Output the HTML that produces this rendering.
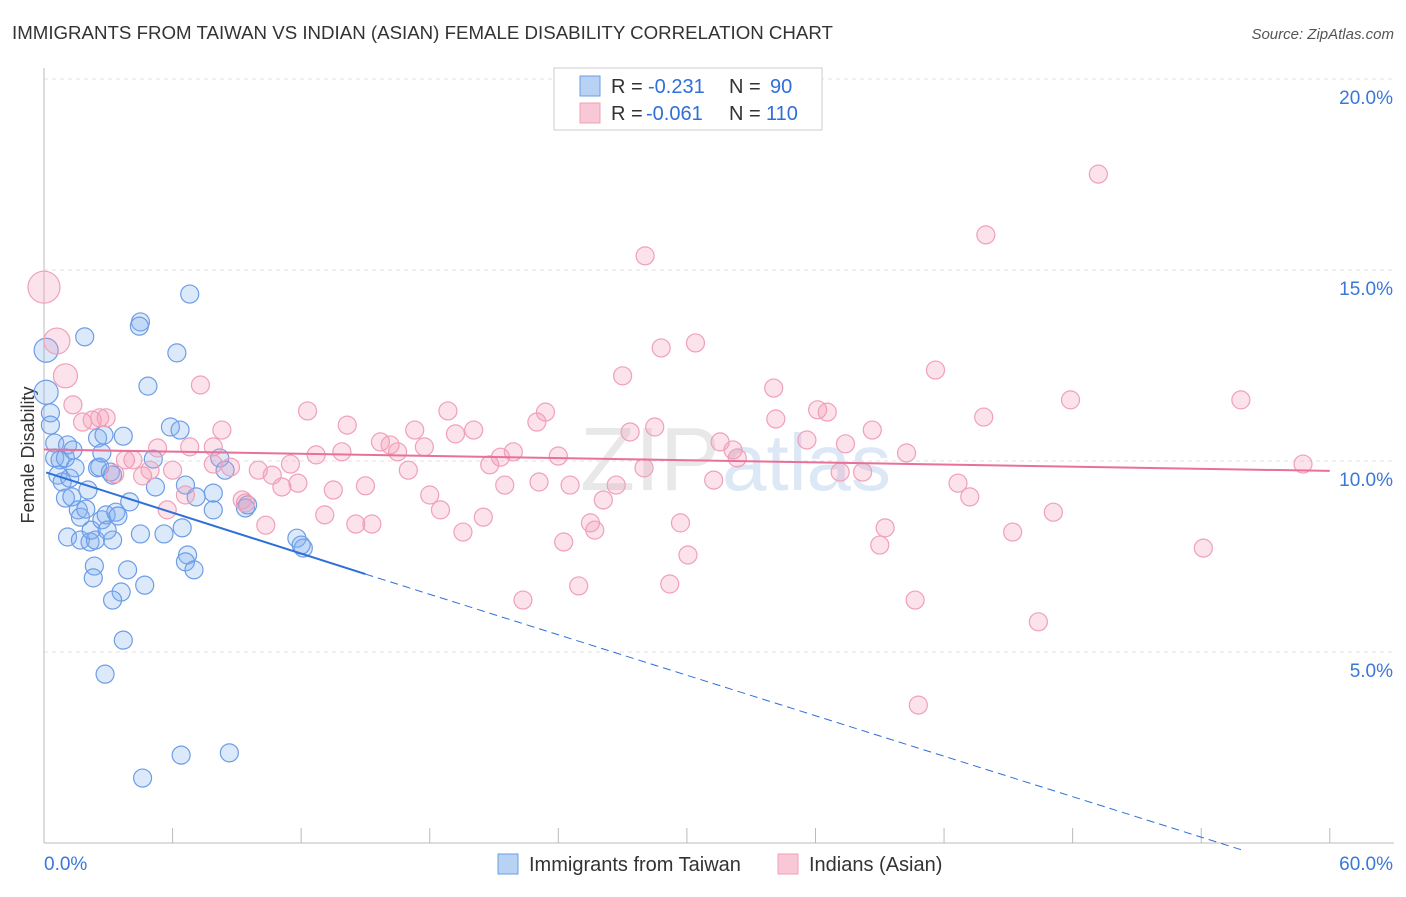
<!DOCTYPE html>
<html><head><meta charset="utf-8"><style>
body{margin:0;background:#fff;font-family:"Liberation Sans",sans-serif;}
svg text{font-family:"Liberation Sans",sans-serif;white-space:pre;}
</style></head><body>
<svg id="chart" width="1406" height="892">
<text x="12" y="39" font-size="18.7" fill="#333">IMMIGRANTS FROM TAIWAN VS INDIAN (ASIAN) FEMALE DISABILITY CORRELATION CHART</text>
<text x="1394" y="39" font-size="15" fill="#555" font-style="italic" text-anchor="end">Source: ZipAtlas.com</text>
<text x="720" y="490" font-size="90" fill="#e8e8e8" font-family="Liberation Serif" text-anchor="end">ZIP</text>
<text x="722" y="490" font-size="80" fill="#dce8f6">atlas</text>
<g id="grid"></g>
<g id="axes"></g>
<text x="34" y="455" font-size="18" fill="#333" text-anchor="middle" transform="rotate(-90 34 455)">Female Disability</text>
<g id="marks"></g>
<g>
<rect x="554" y="68" width="268" height="62" fill="#fff" stroke="#ccc"/>
<rect x="580" y="76" width="20" height="20" fill="#b8d2f4" stroke="#6a9de0"/>
<rect x="580" y="103" width="20" height="20" fill="#f9c8d6" stroke="#f0a0b8"/>
<text x="611" y="93" font-size="20" fill="#333">R = </text>
<text x="648" y="93" font-size="20" fill="#2f6fd8">-0.231</text>
<text x="729" y="93" font-size="20" fill="#333">N = </text>
<text x="770" y="93" font-size="20" fill="#2f6fd8">90</text>
<text x="611" y="120" font-size="20" fill="#333">R = </text>
<text x="646" y="120" font-size="20" fill="#2f6fd8">-0.061</text>
<text x="729" y="120" font-size="20" fill="#333">N = </text>
<text x="766" y="120" font-size="20" fill="#2f6fd8">110</text>
</g>
<g>
<rect x="498" y="854" width="20" height="20" fill="#b8d2f4" stroke="#6a9de0"/>
<text x="529" y="871" font-size="20" fill="#333">Immigrants from Taiwan</text>
<rect x="778" y="854" width="20" height="20" fill="#f9c8d6" stroke="#f0a0b8"/>
<text x="809" y="871" font-size="20" fill="#333">Indians (Asian)</text>
</g>
</svg>
<script>
const yTicks=[5,10,15,20];
const yTickLabels=["5.0%","10.0%","15.0%","20.0%"];
const xTicks=[0,6,12,18,24,30,36,42,48,54,60];
const blueX=[0.1,0.1,0.3,0.3,0.5,0.5,0.75,1.0,1.1,1.35,0.65,0.85,1.2,1.45,1.9,1.0,1.3,1.6,1.7,2.05,1.95,1.1,1.7,2.15,2.4,2.2,2.5,2.6,2.5,2.8,2.7,3.1,3.2,2.7,2.9,3.35,3.45,3.2,2.95,3.7,4.0,4.5,4.85,4.5,4.45,5.2,5.6,5.9,6.35,6.45,6.6,6.7,6.6,7.0,6.2,6.8,5.1,7.1,7.9,7.9,8.2,8.45,9.4,9.5,11.8,12.1,12.0,2.35,2.3,3.9,4.7,3.6,3.2,3.7,2.85,6.4,8.65,4.6];
const blueY=[12.9,11.8,11.26,10.94,10.47,10.08,10.03,10.08,10.42,10.29,9.63,9.45,9.55,9.82,13.25,9.03,9.06,8.72,8.53,9.24,8.74,8.01,7.93,7.88,7.93,8.19,9.82,9.84,10.6,10.68,10.21,9.71,9.63,8.46,8.59,8.66,8.56,7.93,8.19,10.65,8.93,8.09,11.96,13.64,13.53,9.32,8.09,10.89,10.81,8.25,9.37,7.54,7.36,7.15,12.83,14.37,10.05,9.06,9.16,8.72,10.08,9.76,8.77,8.85,7.98,7.72,7.8,7.25,6.94,7.15,6.75,6.57,6.36,5.31,4.42,2.3,2.36,1.7];
const pinkX=[0,0.6,1.0,1.35,1.8,2.25,2.6,2.9,3.3,3.8,4.15,4.6,4.95,5.3,5.75,6.0,6.6,6.8,7.3,7.9,8.3,7.9,8.7,9.4,9.25,10.0,10.35,10.65,11.1,11.5,11.85,12.3,12.7,13.1,13.5,13.9,14.15,14.55,15.0,15.3,15.7,16.15,16.5,17.0,17.3,17.75,18.0,18.5,18.85,19.2,19.55,20.05,20.5,20.8,21.3,21.5,21.9,22.35,23.0,23.1,23.4,24.0,24.25,24.55,24.95,25.5,25.7,26.1,26.7,27.0,27.35,28.0,28.05,28.5,28.8,29.2,29.7,30.05,30.4,31.25,31.55,32.15,32.35,34.05,34.15,35.6,36.1,36.55,37.15,37.4,38.2,38.65,39.0,39.25,40.25,40.65,40.8,41.6,42.65,43.2,43.85,43.95,45.2,46.4,47.1,47.9,49.2,54.1,55.85,58.75];
const pinkY=[14.55,13.14,12.23,11.47,11.02,11.07,11.13,11.13,9.66,10.03,10.03,9.61,9.76,10.34,8.72,9.76,9.11,10.37,11.99,9.92,10.81,10.37,9.84,8.9,8.98,9.76,8.32,9.63,9.32,9.92,9.42,11.31,10.16,8.59,9.24,10.24,10.94,8.35,9.35,8.35,10.5,10.42,10.24,9.76,10.81,10.37,9.11,8.72,11.31,10.71,8.14,10.81,8.53,9.9,10.1,9.37,10.24,6.36,11.02,9.45,11.28,10.13,7.88,9.37,6.73,8.38,8.19,8.98,9.37,12.23,10.76,9.82,15.37,10.89,12.96,6.78,8.38,7.54,13.09,9.5,10.5,10.29,10.08,11.91,11.1,10.55,11.34,11.28,9.71,10.45,9.71,10.81,7.8,8.25,10.21,6.36,3.61,12.38,9.42,9.06,11.15,15.92,8.14,5.79,8.66,11.6,17.51,7.72,11.6,9.92];
const blueTrend=[[0.1,9.7],[15,7.04],[56,-0.2]];
const pinkTrend=[[0,10.3],[60,9.74]];
const NS="http://www.w3.org/2000/svg";
const X=v=>44+v*21.43, Y=v=>843-v*38.2;
function el(t,a,p){const e=document.createElementNS(NS,t);for(const k in a)e.setAttribute(k,a[k]);document.getElementById(p).appendChild(e);return e;}
yTicks.forEach((t,i)=>{
 const g=el('line',{x1:44,x2:1394,y1:Y(t),y2:Y(t),stroke:'#e2e2e2','stroke-dasharray':'4 4'},'grid');
 
 
 const l=el('text',{x:1393,y:Y(t)+25,'font-size':19,fill:'#3a78d8','text-anchor':'end'},'axes');
 l.textContent=yTickLabels[i];
 
 
});
const ya=el('line',{x1:44,x2:44,y1:68,y2:843,stroke:'#bbb'},'axes');


const xa=el('line',{x1:44,x2:1394,y1:843,y2:843,stroke:'#bbb'},'axes');


xTicks.forEach(t=>{
 const k=el('line',{x1:X(t),x2:X(t),y1:828,y2:843,stroke:'#bbb'},'axes');
 
 
});
const xl0=el('text',{x:44,y:870,'font-size':19,fill:'#3a78d8'},'axes');xl0.textContent='0.0%';


const xl1=el('text',{x:1393,y:870,'font-size':19,fill:'#3a78d8','text-anchor':'end'},'axes');xl1.textContent='60.0%';


function rad(i,x){return (x<0.2&&i<2)?12:9;}
blueX.forEach((x,i)=>{
 const c=el('circle',{cx:X(x),cy:Y(blueY[i]),r:rad(i,x),fill:'rgba(130,175,240,0.28)',stroke:'#6d9de6','stroke-width':1.2},'marks');
 
 
});
pinkX.forEach((x,i)=>{
 const r=i==0?16:(i==1?13:(i==2?12:9));
 const c=el('circle',{cx:X(x),cy:Y(pinkY[i]),r:r,fill:'rgba(245,150,180,0.28)',stroke:'#f0a0b8','stroke-width':1.2},'marks');
 
 
});
const b1=el('line',{x1:X(blueTrend[0][0]),y1:Y(blueTrend[0][1]),x2:X(blueTrend[1][0]),y2:Y(blueTrend[1][1]),stroke:'#2f6fd8','stroke-width':2},'marks');


const b2=el('line',{x1:X(blueTrend[1][0]),y1:Y(blueTrend[1][1]),x2:X(blueTrend[2][0]),y2:Y(blueTrend[2][1]),stroke:'#2f6fd8','stroke-width':1,'stroke-dasharray':'8 5'},'marks');


const p1=el('line',{x1:X(pinkTrend[0][0]),y1:Y(pinkTrend[0][1]),x2:X(pinkTrend[1][0]),y2:Y(pinkTrend[1][1]),stroke:'#e8709a','stroke-width':2},'marks');


</script>
</body></html>
